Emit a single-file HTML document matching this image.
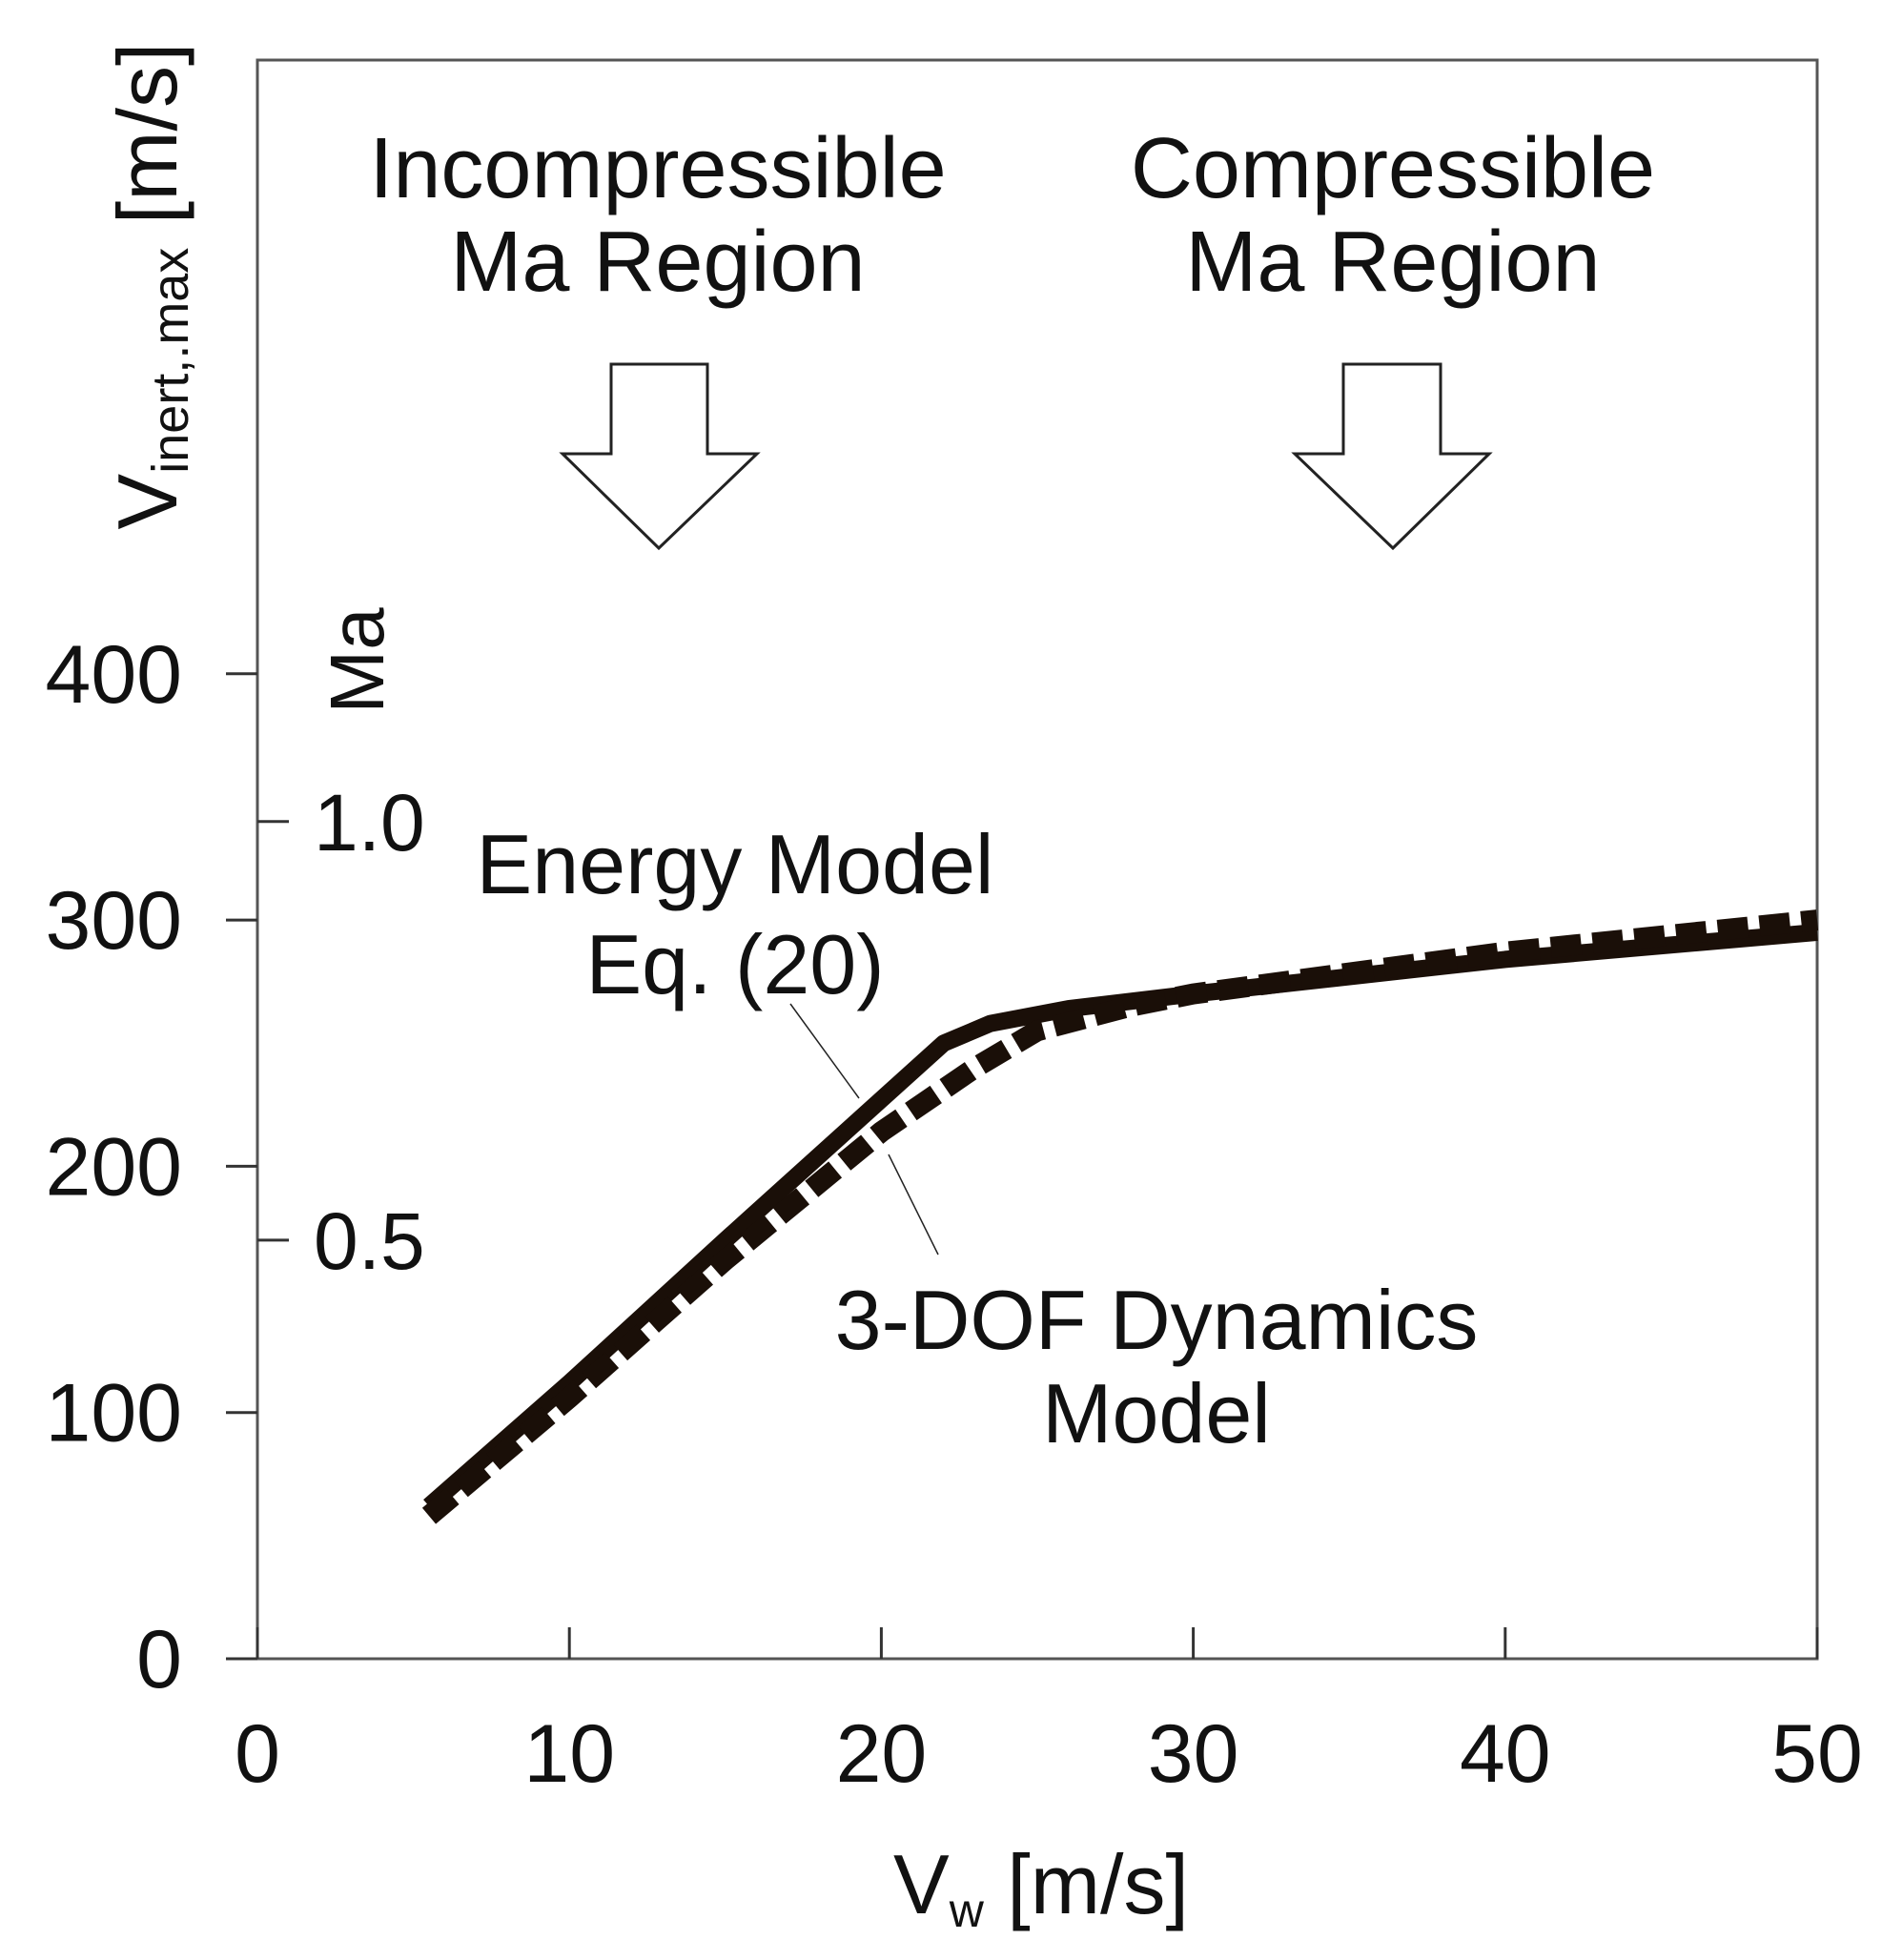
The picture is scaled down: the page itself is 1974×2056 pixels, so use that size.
<!DOCTYPE html>
<html><head><meta charset="utf-8"><style>
html,body{margin:0;padding:0;background:#fff}
svg{display:block}
text{font-family:"Liberation Sans",Arial,sans-serif;fill:#111}
</style></head><body>
<svg id="chart" width="1974" height="2056" viewBox="0 0 1974 2056" xmlns="http://www.w3.org/2000/svg">
<rect x="270" y="63" width="1636" height="1677" fill="none" stroke="#555" stroke-width="3"/>
<g id="axes"></g>
<g id="series"></g>
<text transform="translate(185,300) rotate(-90)" text-anchor="middle" font-size="88">V<tspan font-size="54" dy="12">inert,.max</tspan><tspan dy="-12"> [m/s]</tspan></text>
<text transform="translate(402,693) rotate(-90)" text-anchor="middle" font-size="80">Ma</text>
<text x="1092" y="2007" text-anchor="middle" font-size="88">V<tspan font-size="50" dy="14">w</tspan><tspan dy="-14"> [m/s]</tspan></text>
<text x="690" y="207" text-anchor="middle" font-size="90">Incompressible</text>
<text x="690" y="305" text-anchor="middle" font-size="90">Ma Region</text>
<text x="1461" y="207" text-anchor="middle" font-size="90">Compressible</text>
<text x="1461" y="305" text-anchor="middle" font-size="90">Ma Region</text>
<polygon points="641,382 742,382 742,476 794,476 691,575 590,476 641,476" fill="#fff" stroke="#222" stroke-width="3"/>
<polygon points="1409,382 1511,382 1511,476 1562,476 1461,575 1358,476 1409,476" fill="#fff" stroke="#222" stroke-width="3"/>
<text x="771" y="937" text-anchor="middle" font-size="88">Energy Model</text>
<text x="771" y="1042" text-anchor="middle" font-size="88">Eq. (20)</text>
<text x="1213" y="1415" text-anchor="middle" font-size="88">3-DOF Dynamics</text>
<text x="1213" y="1513" text-anchor="middle" font-size="88">Model</text>
<line x1="829" y1="1053" x2="901" y2="1152" stroke="#222" stroke-width="1.5"/>
<line x1="932" y1="1211" x2="984" y2="1316" stroke="#222" stroke-width="1.5"/>
</svg>
<script>
const xTicks = [0, 10, 20, 30, 40, 50];
const yTicks = [0, 100, 200, 300, 400];
const maTicks = [0.5, 1.0];
const maTickLabels = ["0.5", "1.0"];
const energyX = [5.5, 10, 15, 22, 23.5, 26, 30, 40, 50];
const energyY = [62, 112, 170, 250, 258, 264, 270, 284, 295];
const dofX = [5.5, 10, 15, 20, 23, 25, 28, 30, 40, 50];
const dofY = [58, 106, 162, 214, 240, 255, 265, 270, 287, 300];
const speedOfSound = 340;

const X0=270, X1=1906, Y0=1740, PX=1636/50, PY=258.3/100;
const sx = v => X0 + v*PX;
const sy = v => Y0 - v*PY;
const NS="http://www.w3.org/2000/svg";
const axes=document.getElementById('axes'), series=document.getElementById('series');
function mk(tag, attrs, parent){const e=document.createElementNS(NS,tag);for(const k in attrs)e.setAttribute(k,attrs[k]);parent.appendChild(e);return e;}

xTicks.forEach(t=>{
  const l=mk('line',{x1:sx(t),x2:sx(t),y1:Y0,y2:Y0-33,stroke:'#333','stroke-width':3},axes);
  
  
  const tx=mk('text',{x:sx(t),y:1869,'text-anchor':'middle','font-size':86},axes);
  
  
  tx.textContent=t;
});
yTicks.forEach(t=>{
  const l=mk('line',{x1:237,x2:X0,y1:sy(t),y2:sy(t),stroke:'#333','stroke-width':3},axes);
  
  
  const tx=mk('text',{x:191,y:sy(t)+30,'text-anchor':'end','font-size':86},axes);
  
  
  tx.textContent=t;
});
maTicks.forEach((m,i)=>{
  const y=sy(m*speedOfSound);
  const l=mk('line',{x1:X0,x2:303,y1:y,y2:y,stroke:'#333','stroke-width':3},axes);
  
  
  const tx=mk('text',{x:329,y:y+30,'font-size':84},axes);
  
  
  tx.textContent=maTickLabels[i];
});
function pts(xs,ys){return xs.map((x,i)=>sx(x).toFixed(1)+','+sy(ys[i]).toFixed(1)).join(' ');}
const e=mk('polyline',{points:pts(energyX,energyY),fill:'none',stroke:'#1a0f08','stroke-width':18,'stroke-linejoin':'round'},series);


const d=mk('polyline',{points:pts(dofX,dofY),fill:'none',stroke:'#1a0f08','stroke-width':22,'stroke-dasharray':'32 12'},series);


</script>
</body></html>
